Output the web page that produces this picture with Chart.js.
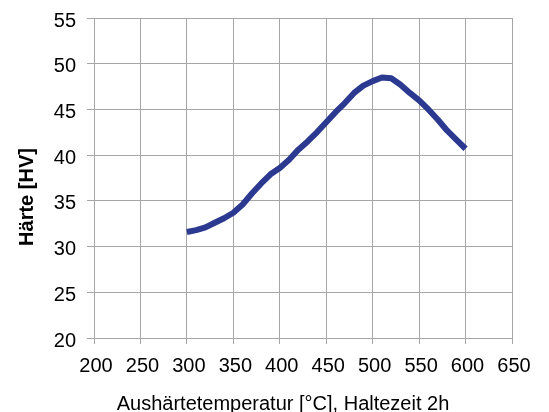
<!DOCTYPE html>
<html>
<head>
<meta charset="utf-8">
<script src="https://cdn.jsdelivr.net/npm/chart.js@4"></script>
<style>
  html, body { margin: 0; padding: 0; background: #fff; }
  #wrap { width: 549px; height: 412px; }
</style>
</head>
<body>
<div id="wrap"><canvas id="haerte-chart"></canvas></div>
<script>
// Aushärtetemperatur in °C
const temperatures = [300, 310, 320, 330, 340, 350, 360, 370, 380, 390, 400,
                      410, 420, 430, 440, 450, 460, 470, 480, 490, 500,
                      510, 520, 530, 540, 550, 560, 570, 580, 590, 600];
// Härte in HV
const hardness = [31.6, 31.8, 32.1, 32.6, 33.1, 33.7, 34.6, 35.8, 36.9, 37.9, 38.6,
                  39.5, 40.6, 41.5, 42.5, 43.6, 44.7, 45.7, 46.8, 47.6, 48.1,
                  48.5, 48.4, 47.7, 46.8, 46.0, 45.0, 43.9, 42.7, 41.7, 40.7];

const xTitle = "Aushärtetemperatur [°C], Haltezeit 2h";
const yTitle = "Härte [HV]";

const gridColor = "#a6a6a6";
const fontFamily = "Arial, 'Liberation Sans', sans-serif";

// axis titles are drawn by hand, the original ones sit off-centre
const axisTitles = {
  id: "axisTitles",
  afterDraw(chart) {
    const ctx = chart.ctx;
    const area = chart.chartArea;
    ctx.save();
    ctx.fillStyle = "#000";
    ctx.textAlign = "center";
    ctx.textBaseline = "alphabetic";
    ctx.font = "20px " + fontFamily;
    ctx.fillText(xTitle, area.left + 189, 410);
    ctx.translate(33, area.top + 179);
    ctx.rotate(-Math.PI / 2);
    ctx.font = "bold 20px " + fontFamily;
    ctx.fillText(yTitle, 0, 0);
    ctx.restore();
  }
};

new Chart(document.getElementById("haerte-chart"), {
  type: "line",
  data: {
    labels: temperatures,
    datasets: [{
      label: "Härte",
      data: temperatures.map((t, i) => ({ x: t, y: hardness[i] })),
      borderColor: "#2b3990",
      borderWidth: 6,
      pointRadius: 0,
      tension: 0,
      borderJoinStyle: "round",
      borderCapStyle: "butt",
      fill: false
    }]
  },
  options: {
    responsive: true,
    maintainAspectRatio: false,
    animation: false,
    layout: { padding: { top: 18, right: 37, left: 0, bottom: 0 } },
    plugins: {
      legend: { display: false },
      tooltip: { enabled: false }
    },
    scales: {
      x: {
        type: "linear",
        min: 200,
        max: 650,
        afterFit(scale) {
          scale.height = 74;
          scale.paddingLeft = 0;
          scale.paddingRight = 0;
        },
        ticks: {
          stepSize: 50,
          color: "#000",
          font: { family: fontFamily, size: 20 },
          padding: 10,
          labelOffset: 2,
          maxRotation: 0
        },
        grid: { color: gridColor, tickLength: 6, drawTicks: true },
        border: { color: gridColor }
      },
      y: {
        min: 20,
        max: 55,
        afterFit(scale) {
          scale.width = 94;
          scale.paddingTop = 0;
          scale.paddingBottom = 0;
        },
        ticks: {
          stepSize: 5,
          color: "#000",
          font: { family: fontFamily, size: 20 },
          padding: 11,
          labelOffset: 3
        },
        grid: { color: gridColor, tickLength: 7, drawTicks: true },
        border: { color: gridColor }
      }
    }
  },
  plugins: [axisTitles]
});
</script>
</body>
</html>
